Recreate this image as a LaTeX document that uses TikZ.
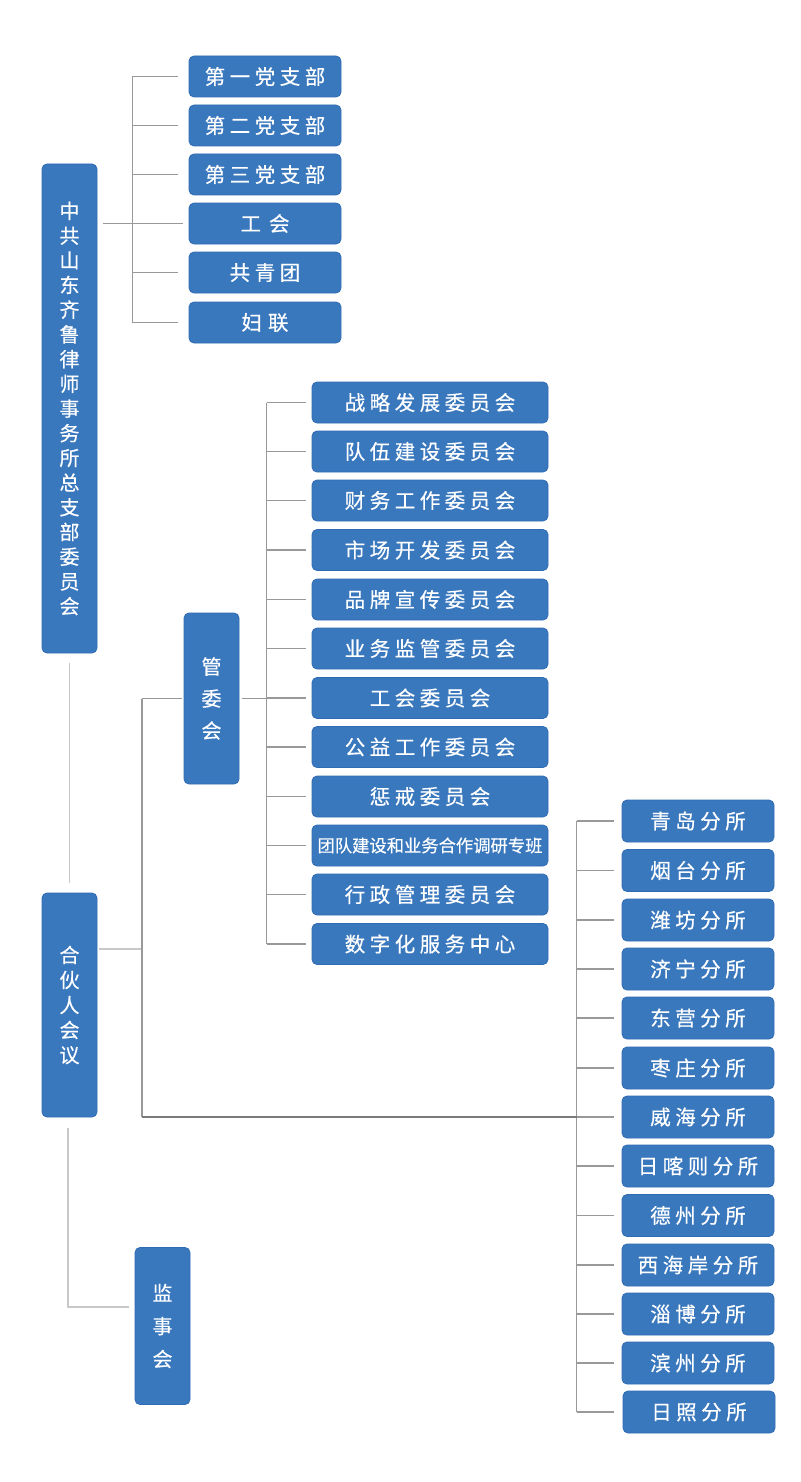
\documentclass[tikz,border=0pt]{standalone}
\usepackage{fontspec}
\newfontfamily\cjk[FakeBold=0.4]{Noto Sans CJK SC}
\newfontfamily\cjks[LetterSpace=22,FakeBold=0.4]{Noto Sans CJK SC}
\usetikzlibrary{calc}
\definecolor{boxblue}{HTML}{3A78BE}
\definecolor{boxedge}{HTML}{2F6BB3}
\definecolor{lgrey}{HTML}{999999}
\definecolor{llgrey}{HTML}{C8C8C8}
\definecolor{dgrey}{HTML}{7A7A7A}
\tikzset{
  box/.style={draw=boxedge,line width=0.8pt,fill=boxblue,rounded corners=5pt,text=white,inner sep=0pt,anchor=center},
  tbox/.style={box,minimum width=152pt,minimum height=41pt,font=\cjks\fontsize{20.5}{22}\selectfont},
  mbox/.style={box,minimum width=236pt,minimum height=41pt,font=\cjks\fontsize{20.5}{22}\selectfont},
  bbox/.style={box,minimum width=152pt,minimum height=42pt,font=\cjks\fontsize{20.5}{22}\selectfont},
  vbox/.style={box,minimum width=55pt,align=center},
  conn/.style={draw=lgrey,line width=1.1pt},
  lconn/.style={draw=llgrey,line width=1.6pt},
  dconn/.style={draw=dgrey,line width=1.6pt}
}
\begin{document}
\begin{tikzpicture}[x=1pt,y=-1pt]
\useasboundingbox[fill=white] (0,0) rectangle (800,1482);
% vertical boxes
\node[vbox,minimum height=489pt,font=\cjk\fontsize{20}{24.7}\selectfont] (zg) at (69.5,408.5)
 {中\\共\\山\\东\\齐\\鲁\\律\\师\\事\\务\\所\\总\\支\\部\\委\\员\\会};
\node[vbox,minimum height=171pt,font=\cjk\fontsize{20}{32}\selectfont] (gw) at (211.5,698.5) {管\\委\\会};
\node[vbox,minimum height=224pt,font=\cjk\fontsize{20}{25}\selectfont] (hh) at (69.5,1005) {合\\伙\\人\\会\\议};
\node[vbox,minimum height=157pt,font=\cjk\fontsize{20}{33}\selectfont] (js) at (162.5,1326) {监\\事\\会};
% top group
\node[tbox] (t1) at (265,76.5) {第一党支部};
\node[tbox] (t2) at (265,125.5) {第二党支部};
\node[tbox] (t3) at (265,174.5) {第三党支部};
\node[tbox] (t4) at (265,223.5) {工\hspace{8pt}会};
\node[tbox] (t5) at (265,272.5) {共青团};
\node[tbox] (t6) at (265,322.5) {妇\hspace{6pt}联};
% middle group
\node[mbox] (m1) at (430,402.5) {战略发展委员会};
\node[mbox] (m2) at (430,451.5) {队伍建设委员会};
\node[mbox] (m3) at (430,500.5) {财务工作委员会};
\node[mbox] (m4) at (430,550) {市场开发委员会};
\node[mbox] (m5) at (430,599.5) {品牌宣传委员会};
\node[mbox] (m6) at (430,648.5) {业务监管委员会};
\node[mbox] (m7) at (430,698) {工会委员会};
\node[mbox] (m8) at (430,747) {公益工作委员会};
\node[mbox] (m9) at (430,796.5) {惩戒委员会};
\node[mbox,font=\cjk\fontsize{17.3}{20}\selectfont] (m10) at (430,845.5) {团队建设和业务合作调研专班};
\node[mbox] (m11) at (430,894.5) {行政管理委员会};
\node[mbox] (m12) at (430,944) {数字化服务中心};
% branch group
\node[bbox] (b1) at (698,821) {青岛分所};
\node[bbox] (b2) at (698,870.5) {烟台分所};
\node[bbox] (b3) at (698,920) {潍坊分所};
\node[bbox] (b4) at (698,969) {济宁分所};
\node[bbox] (b5) at (698,1018) {东营分所};
\node[bbox] (b6) at (698,1068) {枣庄分所};
\node[bbox] (b7) at (698,1117) {威海分所};
\node[bbox] (b8) at (698,1166) {日喀则分所};
\node[bbox] (b9) at (698,1215.5) {德州分所};
\node[bbox] (b10) at (698,1265) {西海岸分所};
\node[bbox] (b11) at (698,1314) {淄博分所};
\node[bbox] (b12) at (698,1363) {滨州分所};
\node[bbox] (b13) at (699,1412) {日照分所};
% top connectors
\draw[conn] ($(zg.east |- t4.west)+(6,0)$) -- ($(t4.west)+(-6,0)$);
\draw[conn] ($(t1.west)+(-56,0)$) -- ($(t6.west)+(-56,0)$);
\foreach \i in {1,...,6} \draw[conn] ($(t\i.west)+(-56,0)$) -- ($(t\i.west)+(-11,0)$);
% middle connectors
\draw[conn] ($(gw.east)+(3,0)$) -- ($(m7.west |- gw.east)+(-7,0)$);
\draw[conn] ($(m1.west)+(-45,0)$) -- ($(m12.west)+(-45,0)$);
\foreach \i in {1,...,12} \draw[conn] ($(m\i.west)+(-45,0)$) -- ($(m\i.west)+(-6,0)$);
% branch connectors
\draw[conn] ($(b1.west)+(-45,0)$) -- ($(b13.west)+(-46,0)$);
\foreach \i in {1,...,12} \draw[conn] ($(b\i.west)+(-45,0)$) -- ($(b\i.west)+(-8,0)$);
\draw[conn] ($(b13.west)+(-46,0)$) -- ($(b13.west)+(-9,0)$);
% partner meeting connectors
\coordinate (pj) at (142,949);
\draw[lconn] ($(zg.south)+(0,10)$) -- ($(hh.north)+(0,-10)$);
\draw[lconn] ($(hh.east |- pj)+(2,0)$) -- (pj);
\draw[conn] (pj |- gw.east) -- ($(gw.west)+(-2,0)$);
\draw[conn] (pj |- gw.east) -- (pj |- b7.west);
\draw[dconn] (pj |- b7.west) -- ($(b7.west)+(-45,0)$);
% supervisory connector
\coordinate (sj) at (68,1307);
\draw[lconn] ($(hh.south -| sj)+(0,11)$) -- (sj) -- ($(js.west |- sj)+(-6,0)$);
\end{tikzpicture}
\end{document}
